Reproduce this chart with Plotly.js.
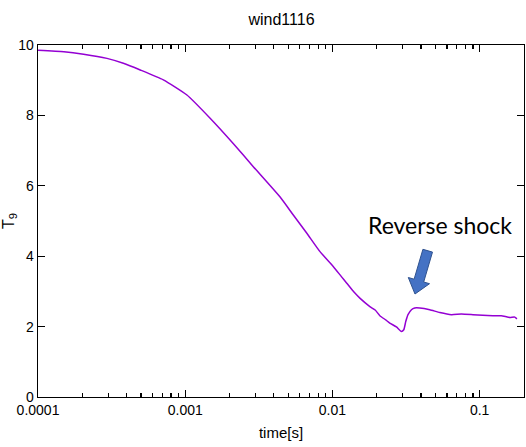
<!DOCTYPE html>
<html>
<head>
<meta charset="utf-8">
<script src="https://cdn.plot.ly/plotly-3.0.1.min.js"></script>
<style>html,body{margin:0;padding:0;background:#fff;}#chart{width:526px;height:447px;}</style>
</head>
<body>
<div id="chart"></div>
<script>
// time [s]
var timeS = [1.0e-4, 1.5e-4, 2.04e-4, 2.94e-4, 3.8e-4, 4.95e-4, 7.1e-4, 1.027e-3, 1.476e-3, 2.11e-3, 2.89e-3, 4.41e-3, 5.42e-3, 6.68e-3, 8.23e-3, 1.012e-2, 1.15e-2, 1.247e-2, 1.40e-2, 1.535e-2, 1.795e-2, 1.95e-2, 2.10e-2, 2.30e-2, 2.45e-2, 2.72e-2, 2.94e-2, 3.05e-2, 3.15e-2, 3.26e-2, 3.44e-2, 3.62e-2, 3.92e-2, 4.58e-2, 5.36e-2, 6.43e-2, 7.52e-2, 9.01e-2, 0.105, 0.123, 0.140, 0.160, 0.173, 0.179];
// T9
var temperature = [9.85, 9.81, 9.74, 9.62, 9.48, 9.29, 9.01, 8.58, 7.92, 7.21, 6.55, 5.68, 5.17, 4.66, 4.13, 3.71, 3.42, 3.24, 2.98, 2.81, 2.57, 2.47, 2.31, 2.19, 2.10, 1.99, 1.86, 1.91, 2.15, 2.34, 2.48, 2.53, 2.53, 2.48, 2.40, 2.34, 2.36, 2.34, 2.32, 2.31, 2.31, 2.26, 2.27, 2.22];
var yTickVals = [0, 2, 4, 6, 8, 10];
var xMax = 0.2;

var M = {l: 38, r: 2, t: 45, b: 50};
var W = 526, H = 447;
var PW = W - M.l - M.r, PH = H - M.t - M.b;
function px(x, y) { return [(x - M.l) / PW, (H - M.b - y) / PH]; }

// block arrow (pixel geometry of decoration)
var arrowPts = [[432.5,252.1],[423.7,282.0],[429.5,283.7],[415,294],[408.3,277.5],[414.1,279.2],[422.9,249.3]];
var path = arrowPts.map(function(p, i){ var q = px(p[0], p[1]); return (i ? 'L' : 'M') + q[0].toFixed(4) + ',' + q[1].toFixed(4); }).join(' ') + ' Z';

var fam = 'Liberation Sans, Arial, sans-serif';
var tickFont = {family: fam, size: 14, color: '#000'};

var trace = {
  x: timeS, y: temperature, type: 'scatter', mode: 'lines',
  line: {color: '#9400d3', width: 1.5, shape: 'spline', smoothing: 0.5}, hoverinfo: 'skip'
};

var layout = {
  width: W, height: H,
  margin: M,
  paper_bgcolor: '#fff', plot_bgcolor: '#fff',
  showlegend: false,
  font: tickFont,
  title: {text: 'wind1116', x: 281.5 / W, xanchor: 'center', y: 1 - 19.5 / H, yanchor: 'middle',
          font: {family: fam, size: 16, color: '#000'}},
  xaxis: {
    type: 'log', range: [-4, Math.log10(xMax)],
    tickmode: 'linear', tick0: 0, dtick: 1, exponentformat: 'none',
    ticks: 'inside', ticklen: 7, tickwidth: 1.2, tickcolor: '#000',
    minor: {dtick: 'D1', ticks: 'inside', ticklen: 4, tickwidth: 1.2, tickcolor: '#000', showgrid: false},
    showline: true, linecolor: '#000', linewidth: 1.3, mirror: 'ticks',
    showgrid: false, zeroline: false,
    tickfont: tickFont,
    title: {text: 'time[s]', font: {family: fam, size: 15, color: '#000'}, standoff: 10}
  },
  yaxis: {
    range: [0, 10], tickmode: 'array', tickvals: yTickVals,
    ticks: 'inside', ticklen: 7, tickwidth: 1, tickcolor: '#000',
    showline: true, linecolor: '#000', linewidth: 1.3, mirror: 'ticks',
    showgrid: false, zeroline: false,
    tickfont: tickFont,
    title: {text: 'T<sub>9</sub>', font: {family: fam, size: 16, color: '#000'}, standoff: 6}
  },
  shapes: [{
    type: 'path', xref: 'paper', yref: 'paper', path: path,
    fillcolor: '#4472c4', line: {color: '#2f528f', width: 1}
  }],
  annotations: [{
    xref: 'paper', yref: 'paper',
    x: px(440, 225)[0], y: px(440, 225)[1],
    text: 'Reverse shock', showarrow: false,
    xanchor: 'center', yanchor: 'middle',
    font: {family: 'Lato, sans-serif', size: 23, color: '#000'}
  }]
};

Plotly.newPlot('chart', [trace], layout, {staticPlot: true, displayModeBar: false});
</script>
</body>
</html>
